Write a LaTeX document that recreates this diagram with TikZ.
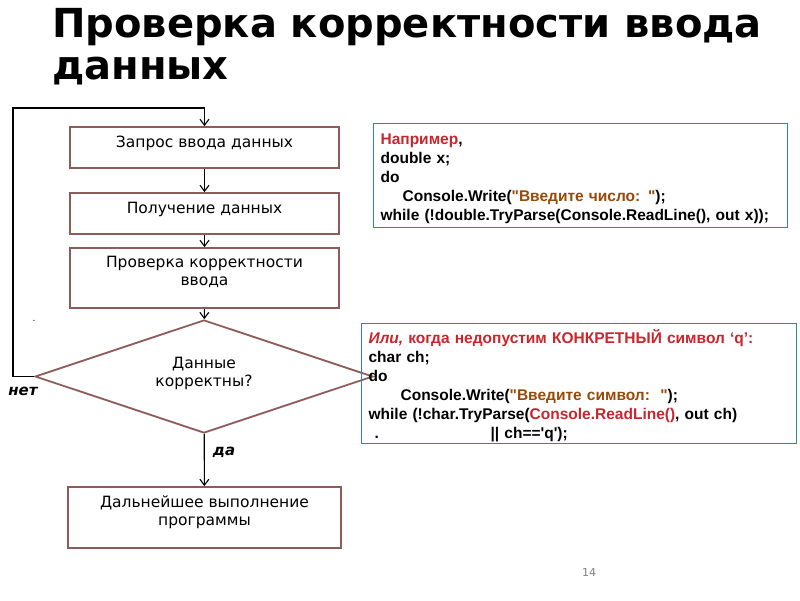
\documentclass[tikz,border=0pt]{standalone}
\usepackage{fontspec}
\setmainfont{DejaVu Sans}
\newfontfamily\codefont{Liberation Sans}
\usetikzlibrary{shapes.geometric,arrows.meta}

\begin{document}
\begin{tikzpicture}[x=1pt, y=-1pt,
                    main/.style = {
                        draw=boxline, rectangle, line width=1.8pt, minimum width=269pt,
                        inner sep=0pt, align=center, font=\fontsize{15.5}{18}\selectfont
                    },
                    decision/.style = {
                        draw=boxline, diamond, line width=1.8pt, aspect=3, inner sep=0pt,
                        minimum width=338pt, minimum height=113pt, align=center,
                        font=\fontsize{15.5}{18}\selectfont
                    },
                    codebox/.style = {
                        draw=codeline, rectangle, line width=1.2pt, anchor=north west,
                        align=left, inner xsep=7pt, inner ysep=0pt,
                        font=\codefont\bfseries\fontsize{15.5}{19}\selectfont
                    },
                    arrow/.style = {
                        -{Straight Barb[length=6pt, width=9pt]}, line width=1.1pt
                    },
                    answer/.style = {
                        font=\bfseries\itshape\fontsize{15}{18}\selectfont
                    }
                ]
                    % Colors
                    \definecolor{boxline}{HTML}{8E5B5B}
                    \definecolor{codeline}{HTML}{31859C}
                    \definecolor{codered}{HTML}{C8252C}
                    \definecolor{codebrown}{HTML}{984807}

                    \useasboundingbox (0,0) rectangle (800,600);

                    % Title
                    \node[anchor=north west, inner sep=0pt, align=left,
                          font=\bfseries\fontsize{40}{42}\selectfont] (title) at (52,8)
                        {Проверка корректности ввода\\данных};

                    % Nodes
                    \node[main, text height=20pt, text depth=21pt] (ask) at (204.5,147.5) {Запрос ввода данных};
                    \node[main, text height=20pt, text depth=21pt] (get) at (204.5,213.5) {Получение данных};
                    \node[main, text height=37pt, text depth=23pt] (test) at (204.5,278) {Проверка корректности\\ввода};
                    \node[decision, text depth=10pt] (check) at (204,376.5) {Данные\\корректны?};
                    \node[main, minimum width=273pt, text height=38pt, text depth=23pt] (next) at (204.5,517.5) {Дальнейшее выполнение\\программы};
                    \node[inner sep=0pt, font=\small] (dot) at (34,321) {.};

                    % Answers
                    \node[answer] (no) at (23,391) {нет};
                    \node[answer] (yes) at (224,452) {да};

                    % Arrows
                    \draw[arrow] (ask) -- (get);
                    \draw[arrow] (get) -- (test);
                    \draw[arrow] (test) -- (check);
                    \draw[arrow] (check) -- (next);
                    \coordinate (back) at (13,108);
                    \draw[arrow] (check.west) -| (back) -| (ask.north);

                    % Examples
                    \node[codebox, minimum width=414pt, minimum height=104pt, text width=400pt,
                          text height=17pt] (ex1) at (373,123) {%
                        {\color{codered}Например},\\
                        double x;\\
                        do\\
                        \hspace*{22pt}Console.Write({\color{codebrown}"Введите число: "});\\
                        while (!double.TryParse(Console.ReadLine(), out x));};
                    \node[codebox, minimum width=435pt, minimum height=120pt, text width=421pt,
                          text height=18pt] (ex2) at (361,323) {%
                        {\color{codered}\itshape Или,} {\color{codered}когда недопустим КОНКРЕТНЫЙ символ ‘q’:}\\
                        char ch;\\
                        do\\
                        \hspace*{32pt}Console.Write({\color{codebrown}"Введите символ:\ \ "});\\
                        while (!char.TryParse({\color{codered}Console.ReadLine()}, out ch)\\
                        \hspace*{6pt}\rlap{.}\hspace*{116pt}|| ch==\textquotesingle q\textquotesingle);};

                    % Page number
                    \node[text=gray, font=\fontsize{11}{13}\selectfont] (page) at (589,572) {14};
                \end{tikzpicture}
\end{document}
